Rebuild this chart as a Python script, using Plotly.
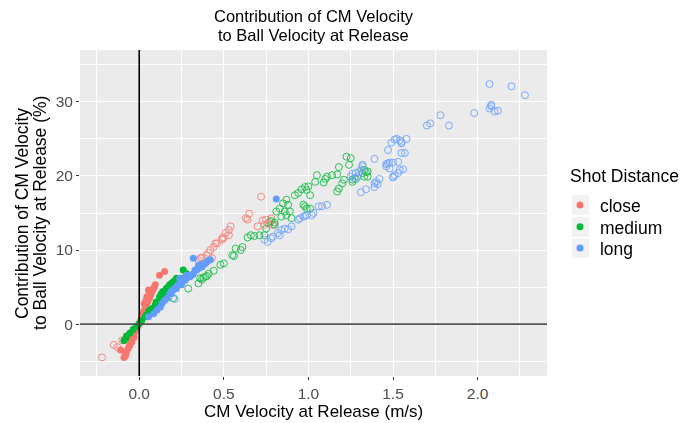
import plotly.graph_objects as go

# ---------------- data ----------------
close_filled_x = [0.12, 0.15, 0.095, 0.085, 0.075, 0.065, 0.06, 0.05, 0.04, 0.035, 0.025, 0.015, 0.005, 0.07, 0.055,
                  0.045, 0.03, 0.09, 0.08, 0.02, 0.01, -0.005, -0.015, -0.025, -0.035, -0.04, -0.045, -0.055, -0.065,
                  -0.075, -0.085, -0.08, -0.11, -0.06, -0.09, -0.05, -0.03, 0.06, 0.04]
close_filled_y = [6.6, 7.1, 5.3, 4.8, 4.4, 3.9, 3.5, 3.0, 2.6, 2.1, 1.7, 1.0, 0.3, 4.1, 4.6,
                  3.7, 2.8, 5.0, 4.6, 1.3, 0.6, -0.2, -0.6, -1.0, -1.5, -1.9, -2.4, -2.8, -3.3,
                  -3.7, -4.3, -4.2, -3.5, -3.0, -4.5, -2.2, -1.8, 4.2, 3.2]

close_open_x = [-0.15, -0.13, -0.22, -0.10, 0.72, 0.65, 0.63, 0.64, 0.54, 0.53, 0.51, 0.49, 0.50, 0.45, 0.44, 0.42,
                0.41, 0.40, 0.37, 0.36, 0.43, 0.35, 0.46, 0.73, 0.75, 0.77, 0.78, 0.76, 0.79, 0.70, 0.74, 0.53, 0.49]
close_open_y = [-2.8, -3.1, -4.5, -2.2, 17.2, 14.9, 14.3, 14.1, 13.2, 12.7, 12.3, 11.6, 11.7, 10.9, 10.4, 10.0,
                9.6, 9.3, 9.0, 8.9, 8.9, 8.6, 10.9, 14.0, 14.1, 13.8, 14.3, 13.6, 13.4, 13.2, 13.4, 12.0, 11.4]

medium_filled_x = [-0.09, -0.075, -0.055, -0.035, -0.015, 0.015, 0.035, 0.055, 0.075, 0.095, 0.115, 0.135, 0.15,
                   0.17, 0.19, 0.22, 0.25, 0.28, 0.26, 0.20, 0.18, 0.17, 0.16, 0.14, 0.13, 0.12, 0.19, 0.21, 0.22,
                   -0.08, 0.0, 0.045, 0.105, 0.23, 0.10, 0.065]
medium_filled_y = [-2.2, -1.6, -1.2, -0.7, -0.3, 0.5, 1.0, 1.7, 2.1, 2.6, 3.0, 3.5, 3.9,
                   4.4, 4.8, 5.5, 6.2, 6.8, 7.3, 5.7, 5.3, 5.0, 4.8, 4.4, 4.1, 3.7, 5.5, 5.9, 6.2,
                   -1.9, 0.1, 1.3, 2.9, 5.8, 3.0, 1.9]

medium_open_x = [1.225, 1.25, 1.24, 1.18, 1.17, 1.14, 1.11, 1.10, 1.09, 1.05, 1.04, 1.00, 0.98, 0.96, 0.99, 1.01,
                 1.21, 1.20, 1.18, 1.17, 1.26, 1.28, 1.26, 1.33, 1.34, 1.35, 1.32, 1.35, 1.33, 0.97, 0.98, 1.01,
                 0.87, 0.85, 0.88, 0.83, 0.81, 0.86, 0.89, 0.84, 0.87, 0.90, 0.92, 0.94, 0.99, 0.78, 0.80, 0.80,
                 0.75, 0.74, 0.71, 0.68, 0.66, 0.64, 0.61, 0.60, 0.56, 0.57, 0.55, 0.50, 0.48, 0.44, 0.41, 0.40,
                 0.38, 0.37, 0.35, 0.29, 0.20, 0.36, 0.39]
medium_open_y = [22.6, 22.4, 21.5, 21.2, 20.2, 20.1, 19.9, 19.6, 19.1, 20.1, 19.2, 18.6, 18.5, 18.2, 18.1, 17.4,
                 19.5, 19.0, 18.3, 17.9, 19.5, 19.6, 19.2, 20.8, 20.5, 20.6, 20.4, 19.9, 19.9, 16.1, 15.9, 15.6,
                 16.8, 16.3, 16.1, 15.6, 15.2, 15.2, 15.2, 14.5, 14.7, 14.3, 17.4, 17.7, 15.6, 13.9, 13.4, 13.7,
                 12.9, 12.0, 12.0, 11.9, 12.0, 11.7, 10.4, 10.0, 9.2, 10.2, 9.3, 8.2, 8.0, 7.2, 6.8, 6.5,
                 6.3, 6.0, 5.5, 4.8, 3.5, 6.2, 6.4]

long_filled_x = [0.81, 0.42, 0.40, 0.39, 0.38, 0.36, 0.37, 0.35, 0.34, 0.33, 0.32, 0.31, 0.29, 0.30, 0.28, 0.27,
                 0.26, 0.25, 0.24, 0.23, 0.22, 0.21, 0.20, 0.19, 0.18, 0.24, 0.105, 0.125, 0.085, 0.055, 0.135,
                 0.165, 0.19, 0.22, 0.25, 0.32, 0.41, 0.15, 0.28, 0.35]
long_filled_y = [16.9, 8.7, 8.4, 8.2, 8.0, 8.0, 7.7, 7.5, 7.3, 7.3, 6.8, 6.6, 6.6, 6.4, 6.2, 5.9,
                 6.0, 5.7, 5.5, 5.3, 5.0, 4.8, 4.6, 4.4, 4.1, 6.2, 1.9, 2.3, 1.4, 1.0, 2.8,
                 3.5, 4.1, 4.8, 5.3, 8.9, 8.6, 3.2, 6.6, 7.9]

long_open_x = [2.07, 2.20, 2.28, 2.08, 2.08, 2.07, 2.10, 2.12, 1.98, 1.78, 1.83, 1.72, 1.70, 1.58, 1.55, 1.57,
               1.55, 1.56, 1.54, 1.52, 1.51, 1.54, 1.55, 1.49, 1.47, 1.39, 1.47, 1.46, 1.48, 1.50, 1.53, 1.46,
               1.48, 1.53, 1.51, 1.50, 1.50, 1.42, 1.40, 1.39, 1.41, 1.39, 1.34, 1.31, 1.32, 1.32, 1.31, 1.30,
               1.28, 1.26, 1.25, 1.27, 1.29, 1.03, 1.02, 1.06, 1.08, 1.11, 0.98, 0.95, 0.78, 0.76, 0.79, 0.82,
               0.84, 0.86, 0.88, 0.90, 0.94, 0.97, 0.99, 0.83, 0.74, 0.21]
long_open_y = [32.4, 32.1, 30.9, 29.6, 29.4, 29.1, 28.7, 28.8, 28.5, 28.2, 26.8, 27.1, 26.8, 25.0, 24.6, 23.1,
               23.1, 20.9, 20.8, 25.0, 24.9, 24.8, 24.4, 24.5, 23.5, 22.3, 21.7, 21.6, 21.8, 21.8, 21.9, 21.3,
               21.0, 20.4, 20.1, 19.8, 19.9, 19.6, 19.2, 19.0, 18.9, 18.5, 18.2, 17.8, 21.5, 21.3, 20.9, 20.5,
               20.4, 20.3, 19.9, 19.7, 19.9, 15.0, 14.7, 15.9, 15.9, 16.1, 14.6, 14.3, 11.6, 11.1, 11.8, 12.3,
               12.7, 12.9, 12.8, 13.2, 14.1, 14.5, 14.7, 12.0, 11.4, 3.4]

categories = ["close", "medium", "long"]
x_tick_vals = [0.0, 0.5, 1.0, 1.5, 2.0]
x_tick_text = ["0.0", "0.5", "1.0", "1.5", "2.0"]
y_tick_vals = [0, 10, 20, 30]
y_tick_text = ["0", "10", "20", "30"]

colors = {"close": "#F8766D", "medium": "#00BA38", "long": "#619CFF"}
groups = {
    "close": (close_filled_x, close_filled_y, close_open_x, close_open_y),
    "medium": (medium_filled_x, medium_filled_y, medium_open_x, medium_open_y),
    "long": (long_filled_x, long_filled_y, long_open_x, long_open_y),
}
legend_ids = {"close": "legend", "medium": "legend2", "long": "legend3"}
legend_y = {"close": 0.5245, "medium": 0.4571, "long": 0.3926}

FONT = "Liberation Sans, Arial, sans-serif"
TXT = dict(family=FONT, size=17.5, color="black")
TITLE = dict(family=FONT, size=16.5, color="black")
XTITLE = dict(family=FONT, size=17, color="black")

fig = go.Figure()
for cat in categories:
    fx, fy, ox, oy = groups[cat]
    fig.add_trace(go.Scatter(
        x=ox, y=oy, mode="markers", name=cat, showlegend=False,
        marker=dict(symbol="circle-open", size=7, color=colors[cat], line=dict(width=1)),
        opacity=0.85,
    ))
for cat in categories:
    fx, fy, ox, oy = groups[cat]
    fig.add_trace(go.Scatter(
        x=fx, y=fy, mode="markers", name=cat, showlegend=True, legend=legend_ids[cat],
        marker=dict(symbol="circle", size=7, color=colors[cat]),
    ))

axis_common = dict(
    showgrid=True, gridcolor="white", gridwidth=1.1,
    ticks="outside", ticklen=3, tickcolor="#333333", tickwidth=1,
    tickfont=dict(family=FONT, size=15.5, color="#4d4d4d"),
    showline=False, mirror=False, zeroline=False,
)

legend_common = dict(font=TXT, x=1.0278, xanchor="left", xref="paper", yanchor="middle",
                     bgcolor="rgba(0,0,0,0)", itemwidth=30)

# the page body adds an 8px margin around the figure
W, H = 679, 415
fig.update_layout(
    width=W, height=H,
    margin=dict(l=72, r=140, t=42, b=47),
    paper_bgcolor="white", plot_bgcolor="#EBEBEB",
    font=dict(family=FONT, color="black"),
    xaxis=dict(
        range=[-0.35, 2.41], tickmode="array", tickvals=x_tick_vals, ticktext=x_tick_text,
        minor=dict(showgrid=True, gridcolor="white", gridwidth=0.5, tick0=0.25, dtick=0.5),
        title=None, **axis_common,
    ),
    yaxis=dict(
        range=[-7, 37], tickmode="array", tickvals=y_tick_vals, ticktext=y_tick_text,
        minor=dict(showgrid=True, gridcolor="white", gridwidth=0.5, tick0=5, dtick=10),
        title=None, **axis_common,
    ),
    legend=dict(y=legend_y["close"], **legend_common),
    legend2=dict(y=legend_y["medium"], **legend_common),
    legend3=dict(y=legend_y["long"], **legend_common),
    shapes=[
        dict(type="line", xref="x", yref="paper", x0=0, x1=0, y0=0, y1=1,
             line=dict(color="black", width=1.6), layer="above"),
        dict(type="line", xref="paper", yref="y", x0=0, x1=1, y0=0, y1=0,
             line=dict(color="#555555", width=1.6), layer="above"),
        dict(type="rect", xref="paper", yref="paper", x0=1.0535, x1=1.0899, y0=0.4939, y1=0.5552,
             fillcolor="#F2F2F2", line=dict(width=0), layer="below"),
        dict(type="rect", xref="paper", yref="paper", x0=1.0535, x1=1.0899, y0=0.4264, y1=0.4877,
             fillcolor="#F2F2F2", line=dict(width=0), layer="below"),
        dict(type="rect", xref="paper", yref="paper", x0=1.0535, x1=1.0899, y0=0.3620, y1=0.4218,
             fillcolor="#F2F2F2", line=dict(width=0), layer="below"),
    ],
    annotations=[
        dict(text="Contribution of CM Velocity", xref="paper", yref="paper", x=0.5, y=1.1043,
             xanchor="center", yanchor="middle", showarrow=False, font=TITLE),
        dict(text="to Ball Velocity at Release", xref="paper", yref="paper", x=0.5, y=1.046,
             xanchor="center", yanchor="middle", showarrow=False, font=TITLE),
        dict(text="Contribution of CM Velocity", xref="paper", yref="paper", x=-0.1242, y=0.5,
             xanchor="center", yanchor="middle", textangle=-90, showarrow=False, font=TXT),
        dict(text="to Ball Velocity at Release (%)", xref="paper", yref="paper", x=-0.0857, y=0.5,
             xanchor="center", yanchor="middle", textangle=-90, showarrow=False, font=TXT),
        dict(text="CM Velocity at Release (m/s)", xref="paper", yref="paper", x=0.5, y=-0.1104,
             xanchor="center", yanchor="middle", showarrow=False, font=XTITLE),
        dict(text="Shot Distance", xref="paper", yref="paper", x=1.045, y=0.6135,
             xanchor="left", yanchor="middle", showarrow=False, font=TXT),
    ],
)

fig.write_html("out.html")
